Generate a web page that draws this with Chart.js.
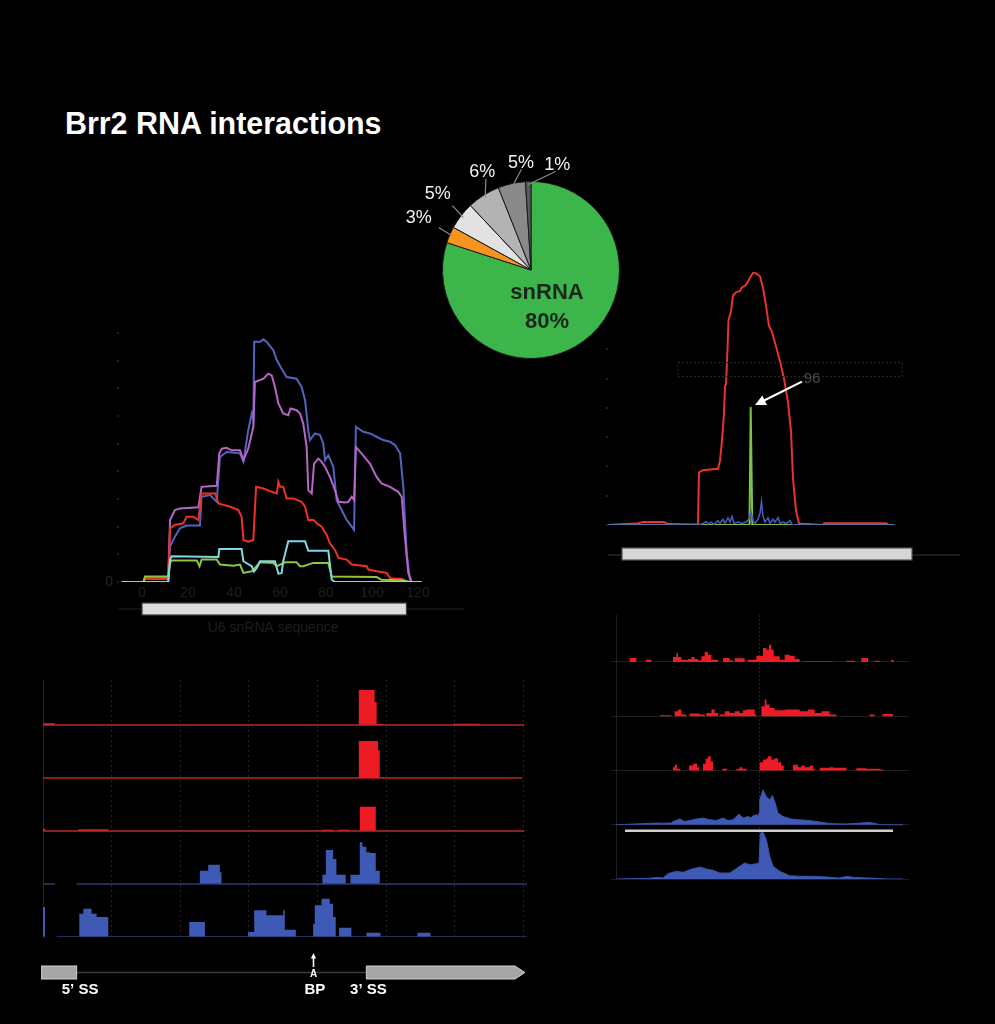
<!DOCTYPE html>
<html lang="en">
<head>
  <meta charset="UTF-8">
  <title>Brr2 RNA interactions</title>
  <script src="https://cdn.jsdelivr.net/npm/chart.js"></script>
  <style>
    body { margin: 0; background: #000; }
    #fig { position: relative; width: 995px; height: 1024px; background: #000; overflow: hidden; }
    #fig canvas { position: absolute; }
    .title {
      position: absolute; left: 65px; top: 107px;
      font: bold 32px 'Liberation Sans', Arial, sans-serif; line-height: 32px;
      color: #fff; white-space: nowrap;
      transform: scaleX(0.95); transform-origin: left top;
    }
  </style>
</head>
<body>
  <div id="fig">
    <div class="title">Brr2 RNA interactions</div>
    <canvas id="u6Chart" width="420" height="330" style="left:60px;top:320px"></canvas>
    <canvas id="peakChart" width="390" height="460" style="left:590px;top:120px"></canvas>
    <canvas id="intronChart" width="550" height="340" style="left:20px;top:670px"></canvas>
    <canvas id="metaChart" width="320" height="300" style="left:600px;top:600px"></canvas>
    <canvas id="pieChart" width="300" height="240" style="left:380px;top:150px"></canvas>
  </div>

  <script>
    // ---------- pie: read classes ----------
    const pieLabels = ["snRNA", "class 2", "class 3", "class 4", "class 5", "class 6"];
    const pieValues = [80, 3, 5, 6, 5, 1];

    // ---------- U6 snRNA profiles [position, signal] ----------
    const u6XTicks = [0, 20, 40, 60, 80, 100, 120];
    const u6YTicks = [0, 1, 2, 3, 4, 5, 6, 7, 8, 9];
    const u6Blue = [[-8.8,0],[11.4,0],[12.2,1.28],[14.3,1.64],[16.5,1.94],[19.4,2.04],[25.2,2.04],[25.9,3.08],[29.6,3.14],[32.5,2.9],[33.9,4.52],[36.8,4.7],[42.6,4.65],[44.1,4.35],[46.2,5.49],[47.7,6.09],[48.4,5.85],[48.8,8.68],[51.3,8.68],[52.8,8.77],[54.2,8.68],[57.1,8.38],[58.6,8.02],[60.7,7.71],[62.9,7.41],[67.2,7.35],[69.4,7.05],[70.9,6.57],[72.3,5.49],[73.0,5.13],[75.2,5.37],[77.4,5.31],[78.8,5.01],[79.6,4.4],[81.0,4.58],[83.2,4.16],[84.6,2.96],[86.1,2.72],[89.0,2.24],[91.2,2.0],[92.2,1.88],[93.0,5.61],[96.2,5.43],[99.1,5.37],[102.0,5.25],[104.9,5.13],[107.8,5.07],[110.0,4.95],[112.2,4.65],[113.6,3.46],[115.1,1.04],[116.5,0.08],[117.3,0],[121.6,0]];
    const u6Purple = [[-8.8,0],[0.6,0],[1.3,0.14],[11.4,0.14],[12.2,2.24],[14.3,2.6],[16.5,2.66],[24.5,2.7],[25.9,3.44],[32.5,3.48],[33.6,4.64],[34.7,4.82],[36.8,4.85],[39.0,4.76],[42.6,4.76],[44.1,4.4],[46.2,4.82],[48.4,5.61],[49.1,7.23],[52.8,7.35],[54.9,7.53],[56.4,7.47],[57.8,7.05],[59.3,6.45],[61.4,6.09],[63.6,6.03],[64.6,6.27],[67.2,6.21],[68.7,6.09],[70.1,5.73],[71.6,4.88],[72.3,3.32],[73.8,3.2],[74.8,4.28],[76.7,4.46],[78.1,4.34],[79.6,4.16],[81.7,3.8],[83.9,3.32],[85.4,2.9],[88.3,2.87],[89.7,2.9],[91.2,3.08],[92.2,2.96],[93.0,4.88],[95.5,4.64],[99.1,4.28],[102.0,3.8],[104.2,3.56],[107.8,3.44],[111.4,3.26],[112.9,3.08],[114.3,1.64],[115.8,0.32],[117.3,0]];
    const u6Red = [[-8.8,0],[0.6,0],[1.3,0.11],[11.4,0.11],[12.2,1.94],[14.3,2.06],[17.9,2.12],[19.4,2.36],[22.3,2.36],[24.5,2.24],[25.9,3.2],[31.8,3.2],[33.2,2.84],[38.3,2.72],[41.9,2.6],[43.3,2.36],[44.1,1.52],[46.2,1.46],[48.4,1.52],[49.6,3.44],[52.8,3.38],[56.4,3.26],[58.6,3.2],[59.3,3.62],[60.0,3.44],[61.4,3.44],[62.9,3.02],[65.8,3.02],[69.4,2.9],[70.9,2.72],[72.3,2.24],[74.5,2.24],[76.0,2.12],[78.1,2.0],[80.3,1.7],[81.7,1.4],[83.9,1.16],[85.4,0.87],[89.0,0.81],[91.2,0.63],[97.7,0.57],[98.4,0.45],[102.0,0.39],[106.4,0.33],[107.8,0.14],[112.9,0.11],[115.1,0]];
    const u6Cyan = [[-8.8,0],[11.4,0],[12.2,0.81],[12.9,0.93],[33.2,0.9],[33.6,1.19],[43.3,1.19],[44.1,0.75],[47.7,0.57],[48.7,0.38],[49.9,0.51],[51.3,0.75],[57.8,0.75],[59.3,0.3],[60.7,0.32],[61.4,0.75],[63.6,1.47],[70.9,1.47],[72.3,1.13],[81.0,1.13],[82.5,0.08],[83.9,0],[121.6,0]];
    const u6Green = [[-8.8,0],[0.6,0],[1.3,0.2],[11.4,0.2],[12.2,0.69],[12.9,0.78],[23.8,0.78],[25.0,0.57],[25.9,0.81],[32.5,0.81],[33.9,0.63],[39.7,0.59],[42.6,0.63],[44.1,0.33],[47.7,0.39],[49.1,0.51],[51.3,0.71],[57.1,0.69],[58.6,0.57],[62.2,0.71],[67.2,0.71],[68.7,0.57],[70.1,0.57],[74.5,0.69],[81.0,0.69],[82.5,0.2],[102.0,0.18],[104.2,0.08],[113.6,0.06],[116.5,0]];

    // ---------- second snRNA profile [position, signal] ----------
    const peakYTicks = [0, 1, 2, 3, 4, 5, 6];
    const peakRed = [[0,0],[30,0.06],[35,0.1],[56,0.1],[60,0.03],[90,0.02],[91,1.8],[95,1.87],[102,1.9],[110,1.92],[112,2.2],[114,2.9],[116,3.8],[117,4.75],[118,4.8],[119.5,6.0],[120.5,7.0],[123,7.3],[125,7.85],[128,7.95],[132,8.0],[134,8.12],[138,8.2],[142,8.45],[145,8.62],[148,8.6],[152,8.5],[155,8.1],[158,7.5],[161,6.8],[164,6.6],[168,6.1],[172,5.6],[176,5.0],[180,4.2],[183,3.2],[185,1.6],[188,0.5],[191,0.05],[215,0],[216,0.06],[278,0.06],[280,0.02]];
    const peakGreen = [[0,0],[141.5,0],[142.7,4.03],[144.3,0],[287,0]];
    const peakBlue = [[0,0],[90,0],[95,0.05],[98,0.12],[100,0.03],[103,0.1],[106,0.02],[110,0.15],[112,0.05],[115,0.2],[117,0.05],[120,0.25],[122,0.1],[124,0.3],[126,0.05],[130,0.1],[134,0.05],[138,0.1],[141,0.2],[143,0.45],[145,0.15],[147,0.05],[150,0.2],[152,0.4],[153.5,0.8],[155,0.3],[157,0.1],[160,0.25],[162,0.05],[165,0.2],[167,0.1],[170,0.25],[172,0.05],[175,0.1],[178,0.05],[182,0.15],[184,0.02],[188,0],[287,0]];

    // ---------- intron tracks, blocks [start, end, height] ----------
    const intronGridTicks = [0, 100, 200, 300, 400, 500, 600, 700];
    const trackL1 = [[0,17,1.7],[460,483,35],[483,486,23],[486,495,1],[597,636,1.2]];
    const trackL2 = [[460,488,37],[488,490.5,27.7]];
    const trackL3 = [[0,3,2.3],[51.4,95,1.7],[405.6,422.6,1.3],[430,447,1.3],[461.4,484.7,24.3]];
    const trackL4 = [[228.5,240.6,13.3],[240.6,257.6,19.3],[257.6,260,11.7],[407,412,9.3],[412,422.6,34],[422.6,427.4,25],[427.4,441,9.3],[447.8,461.4,9.3],[461.4,465.3,41.7],[465.3,471,37.3],[471,476,31.7],[476,484.7,31],[484.7,490.5,13.3]];
    const trackL5 = [[0,3,30],[52.9,58.7,23.3],[58.7,70.8,28.3],[70.8,78.1,23.3],[78.1,95.1,20],[213,235.8,15],[298.8,307.6,5],[307.6,325.5,26.7],[325.5,349.8,21.7],[349.8,352.2,26.7],[352.2,368.3,7.3],[393.5,395.9,13.3],[395.9,405.6,31.7],[405.6,417.7,38.3],[417.7,422.6,33.3],[422.6,426.4,20],[431.3,449.2,9.3],[471.1,491.5,4.3],[545.4,564.4,4.3]];
    const trackL4Gap = [17, 49];
    const trackL5Gap = [3, 20];
    const intronExons = [[-2, 49], [471, 702]];
    const branchPoint = 394;

    // ---------- metagene tracks ----------
    const trackR1 = [[-129.3,-122.6,4],[-113.3,-107.6,2.3],[-86,-82.6,5],[-82.6,-81,9],[-81,-77.6,5],[-77.6,-71,2.3],[-71,-67.6,3],[-67.6,-64.3,5],[-64.3,-61,3],[-61,-57.6,1.7],[-57.6,-54.3,5.7],[-54.3,-51,10],[-51,-47.6,7.3],[-47.6,-41,2.3],[-36,-29.3,4],[-29.3,-26,1.5],[-24.3,-14.3,3.7],[-11,-2.6,2.3],[-2.6,4,6.3],[4,7.3,14],[7.3,10,12.3],[10,12.3,17.3],[12.3,14.7,12.3],[14.7,20.7,5.7],[20.7,25.7,2.3],[25.7,30.7,7.3],[30.7,35.7,6.3],[35.7,40.7,3],[44,74,0.6],[87.4,95.7,1.3],[102.4,109,4],[115.7,120.7,1.3],[132.4,134.7,2.3]];
    const trackR2 = [[-99.3,-87.6,1],[-84.3,-81,5],[-81,-77.6,6.7],[-77.6,-72.6,1.7],[-69.3,-59.3,2.7],[-59.3,-54.3,1.7],[-52.6,-47.6,3.3],[-47.6,-44.3,6.7],[-44.3,-41,3.3],[-39.3,-34.3,1.7],[-34.3,-29.3,5],[-29.3,-24.3,3.3],[-24.3,-19.3,5],[-19.3,-16,3.3],[-16,-12.6,6],[-12.6,-4.3,6.7],[-4.3,-2.6,1.7],[2.4,5.7,10],[5.7,7.4,16.7],[7.4,10.7,11.7],[10.7,15.7,8.3],[15.7,25.7,6],[25.7,40.7,6.7],[40.7,49,5],[49,55.7,6.7],[55.7,62.4,3.3],[62.4,70.7,5],[70.7,77.4,1.7],[110.7,115.7,1.7],[123.4,134,2.3]];
    const trackR3 = [[-86,-84.3,3.3],[-84.3,-82,5.7],[-82,-78.6,1.7],[-70,-66,5],[-66,-62,6.7],[-62,-60,3.3],[-56,-53.3,6.7],[-53.3,-51,11.7],[-51,-48.3,14.3],[-48.3,-46,9],[-36.6,-32,1.7],[-22.6,-19.3,1.7],[-19.3,-16.6,3.3],[-16.6,-12.6,1.7],[0.7,4,8.3],[4,7.4,11],[7.4,9,12.3],[9,12.4,14.3],[12.4,15.7,11],[15.7,19,12.3],[19,22.4,8.3],[22.4,24.7,5],[34,39,5.7],[39,42.4,3.3],[42.4,45.7,5],[45.7,50.7,3.3],[50.7,54,5],[54,55.7,1.7],[60.7,70.7,2.7],[70.7,74,3.3],[74,87.4,2.7],[97.4,107.4,2.3],[107.4,120.7,1.7],[120.7,124,1]];
    const trackR4 = [[-134.3,0.3],[-102.6,1.7],[-96,1.5],[-87.6,1.8],[-86,3.3],[-79.3,5.7],[-74.3,3.3],[-69.3,4.3],[-62.6,5.7],[-56,6.7],[-49.3,5],[-42.6,4.3],[-36,6.7],[-31,4.3],[-26,5],[-20,10.7],[-16,6.7],[-11,8.3],[-8,7],[-6,9],[-4,9.5],[-2.6,10],[-1,8.8],[0,11.7],[0.7,25],[4,35],[7.4,28],[10.7,25],[13.4,29.3],[15.7,23.3],[19,11.7],[24,8.3],[32.4,5.7],[40.7,5],[49,4.3],[57.4,3.3],[67.4,1.7],[74,1],[87.4,0.7],[100.7,1.7],[110.7,2.3],[117.4,1],[120.7,0]];
    const trackR5 = [[-109.3,0.7],[-102.6,1.7],[-96,1],[-91,5.3],[-82.6,7.7],[-76,6.7],[-69.3,9.3],[-59.3,12],[-52.6,10],[-46,8.7],[-39.3,6],[-29.3,6],[-24.3,9.3],[-19.3,12.7],[-14.3,16],[-9.3,14.3],[-2.6,15.3],[0,16],[1.4,46],[4,46.7],[7.4,39.3],[10.7,22.7],[14,12.7],[20.7,7.7],[30.7,3.3],[40.7,2.7],[54,2.7],[67.4,2],[80.7,1],[87.4,2.7],[94,1.7],[107.4,1],[117.4,0.7],[127.4,0]];

    // ---------- common settings ----------
    Chart.defaults.font.family = "'Liberation Sans', Arial, sans-serif";
    Chart.defaults.animation = false;
    Chart.defaults.events = [];
    Chart.defaults.plugins.legend.display = false;
    Chart.defaults.plugins.tooltip.enabled = false;
    Chart.defaults.elements.point.radius = 0;
    Chart.defaults.elements.line.tension = 0;

    const RED = "#ed1c24";
    const BLUE = "#3f5ab5";

    function pairs(arr, base) {
      return arr.map(p => ({ x: p[0], y: base + p[1] }));
    }

    // turn blocks into a stepped outline sitting on "base"
    function blocks(segs, base, start, end, gap) {
      const pts = [{ x: start, y: base }];
      let pos = start;
      segs.forEach(([x0, x1, h]) => {
        if (gap && pos <= gap[0] && x0 >= gap[1]) {
          pts.push({ x: gap[0], y: base }, { x: gap[0], y: null }, { x: gap[1], y: base });
        }
        pts.push({ x: x0, y: base }, { x: x0, y: base + h }, { x: x1, y: base + h }, { x: x1, y: base });
        pos = x1;
      });
      pts.push({ x: end, y: base });
      return pts;
    }

    function baseline(base, start, end, gap) {
      if (!gap) return [{ x: start, y: base }, { x: end, y: base }];
      return [{ x: start, y: base }, { x: gap[0], y: base }, { x: gap[0], y: null }, { x: gap[1], y: base }, { x: end, y: base }];
    }

    function line(data, color, width) {
      return { data: data, borderColor: color, borderWidth: width, fill: false };
    }

    // ---------- pie ----------
    const pieText = {
      id: "pieText",
      afterDatasetsDraw(chart) {
        const ctx = chart.ctx;
        const arcs = chart.getDatasetMeta(0).data;
        const nudge = [0, 1.3, 1.5, 6, 7.3, 15.8];
        const dist = [0, 35, 32, 21, 19, 20];
        const cx = arcs[0].x, cy = arcs[0].y, r = arcs[0].outerRadius;
        ctx.save();
        ctx.textAlign = "center";
        ctx.textBaseline = "middle";
        arcs.forEach((arc, i) => {
          if (i === 0) return;
          const mid = (arc.startAngle + arc.endAngle) / 2;
          const la = mid + nudge[i] * Math.PI / 180;
          ctx.strokeStyle = "#8a8a8a";
          ctx.lineWidth = 1.2;
          ctx.beginPath();
          ctx.moveTo(cx + Math.cos(mid) * (r - 3), cy + Math.sin(mid) * (r - 3));
          ctx.lineTo(cx + Math.cos(la) * (r + 13), cy + Math.sin(la) * (r + 13));
          ctx.stroke();
          ctx.fillStyle = "#f2f2f2";
          ctx.font = "18px 'Liberation Sans', Arial, sans-serif";
          ctx.fillText(pieValues[i] + "%", cx + Math.cos(la) * (r + dist[i]), cy + Math.sin(la) * (r + dist[i]));
        });
        ctx.fillStyle = "#1b261b";
        ctx.font = "bold 22px 'Liberation Sans', Arial, sans-serif";
        ctx.fillText(pieLabels[0], cx + 16, cy + 23);
        ctx.fillText(pieValues[0] + "%", cx + 16, cy + 52);
        ctx.restore();
      }
    };

    new Chart(document.getElementById("pieChart"), {
      type: "pie",
      data: {
        labels: pieLabels,
        datasets: [{
          data: pieValues,
          backgroundColor: ["#3cb54a", "#f7941d", "#e2e2e2", "#b3b3b3", "#8a8a8a", "#5a5a5a"],
          borderColor: "#1a1a1a",
          borderWidth: 1
        }]
      },
      options: {
        responsive: false,
        layout: { padding: { left: 62, top: 31, right: 60, bottom: 31 } }
      },
      plugins: [pieText]
    });

    // ---------- U6 profile ----------
    const u6Extras = {
      id: "u6Extras",
      afterDraw(chart) {
        const ctx = chart.ctx, xs = chart.scales.x;
        const a = chart.chartArea;
        ctx.save();
        ctx.strokeStyle = "#262626";
        ctx.lineWidth = 1.2;
        ctx.beginPath();
        ctx.moveTo(a.left, 289);
        ctx.lineTo(a.right, 289);
        ctx.stroke();
        const x0 = xs.getPixelForValue(0), x1 = xs.getPixelForValue(115);
        ctx.fillStyle = "#dcdcdc";
        ctx.fillRect(x0, 283, x1 - x0, 12);
        ctx.strokeStyle = "#3a3a3a";
        ctx.strokeRect(x0, 283, x1 - x0, 12);
        ctx.fillStyle = "#1f1f1f";
        ctx.font = "14px 'Liberation Sans', Arial, sans-serif";
        ctx.textAlign = "center";
        ctx.textBaseline = "middle";
        ctx.fillText("U6 snRNA sequence", xs.getPixelForValue(57), 308);
        ctx.restore();
      }
    };

    new Chart(document.getElementById("u6Chart"), {
      type: "line",
      data: {
        datasets: [
          line(pairs(u6Cyan, 0), "#7fd8e6", 2),
          line(pairs(u6Green, 0), "#8cc63f", 2),
          line(pairs(u6Red, 0), "#ee3124", 2),
          line(pairs(u6Purple, 0), "#b964c8", 2),
          line(pairs(u6Blue, 0), "#5462c0", 2)
        ]
      },
      options: {
        responsive: false,
        layout: { padding: { left: 0, top: 13, right: 16, bottom: 0 } },
        scales: {
          x: {
            type: "linear", min: -10, max: 140,
            afterBuildTicks: axis => { axis.ticks = u6XTicks.map(v => ({ value: v })); },
            afterFit: scale => { scale.height = 68; },
            grid: { display: false, drawTicks: false },
            border: { display: false },
            ticks: { color: "#1f1f1f", font: { size: 14 }, padding: 3 }
          },
          y: {
            min: 0, max: 9,
            afterBuildTicks: axis => { axis.ticks = u6YTicks.map(v => ({ value: v })); },
            afterFit: scale => { scale.width = 59; },
            grid: { drawOnChartArea: false, drawTicks: true, tickLength: 2, lineWidth: 2, color: "#202020" },
            border: { display: false },
            ticks: { color: "#262626", font: { size: 14 }, padding: 4, callback: v => (v === 0 ? "0" : "") }
          }
        }
      },
      plugins: [u6Extras]
    });

    // ---------- second profile with arrow ----------
    function arrowTo(ctx, x1, y1, x2, y2, head) {
      const a = Math.atan2(y2 - y1, x2 - x1);
      ctx.beginPath();
      ctx.moveTo(x1, y1);
      ctx.lineTo(x2 - Math.cos(a) * head * 0.8, y2 - Math.sin(a) * head * 0.8);
      ctx.stroke();
      ctx.beginPath();
      ctx.moveTo(x2, y2);
      ctx.lineTo(x2 - head * Math.cos(a - 0.45), y2 - head * Math.sin(a - 0.45));
      ctx.lineTo(x2 - head * Math.cos(a + 0.45), y2 - head * Math.sin(a + 0.45));
      ctx.closePath();
      ctx.fill();
    }

    const peakExtras = {
      id: "peakExtras",
      afterDraw(chart) {
        const ctx = chart.ctx, xs = chart.scales.x, ys = chart.scales.y;
        ctx.save();
        // sequence bar
        ctx.strokeStyle = "#363636";
        ctx.lineWidth = 1.2;
        ctx.beginPath();
        ctx.moveTo(xs.getPixelForValue(0), 435);
        ctx.lineTo(xs.getPixelForValue(352), 435);
        ctx.stroke();
        const b0 = xs.getPixelForValue(14), b1 = xs.getPixelForValue(304);
        ctx.fillStyle = "#d6d6d6";
        ctx.fillRect(b0, 428, b1 - b0, 12);
        ctx.strokeStyle = "#555";
        ctx.strokeRect(b0, 428, b1 - b0, 12);
        // faint dotted box with "96"
        ctx.setLineDash([2, 2]);
        ctx.strokeStyle = "#262626";
        const rx0 = xs.getPixelForValue(70), rx1 = xs.getPixelForValue(294);
        const ry0 = ys.getPixelForValue(5.55), ry1 = ys.getPixelForValue(5.07);
        ctx.strokeRect(rx0, ry0, rx1 - rx0, ry1 - ry0);
        ctx.setLineDash([]);
        ctx.fillStyle = "#4a4a4a";
        ctx.font = "15px 'Liberation Sans', Arial, sans-serif";
        ctx.textAlign = "center";
        ctx.textBaseline = "middle";
        ctx.fillText("96", xs.getPixelForValue(204), ys.getPixelForValue(4.98));
        // arrow to the green peak
        ctx.strokeStyle = "#fff";
        ctx.fillStyle = "#fff";
        ctx.lineWidth = 2.2;
        arrowTo(ctx, xs.getPixelForValue(194), ys.getPixelForValue(4.9), xs.getPixelForValue(147), ys.getPixelForValue(4.1), 12);
        ctx.restore();
      }
    };

    new Chart(document.getElementById("peakChart"), {
      type: "line",
      data: {
        datasets: [
          line(pairs(peakBlue, 0), "#4a5bc0", 1.5),
          line(pairs(peakGreen, 0), "#7cc243", 2),
          line(pairs(peakRed, 0), "#e8322f", 2)
        ]
      },
      options: {
        responsive: false,
        layout: { padding: { left: 0, top: 10, right: 20, bottom: 55 } },
        scales: {
          x: { type: "linear", min: 0, max: 352, display: false },
          y: {
            min: 0, max: 13.5,
            afterBuildTicks: axis => { axis.ticks = peakYTicks.map(v => ({ value: v })); },
            afterFit: scale => { scale.width = 18; },
            grid: { drawOnChartArea: false, drawTicks: true, tickLength: 2, lineWidth: 2, color: "#202020" },
            border: { display: false },
            ticks: { display: false }
          }
        }
      },
      plugins: [peakExtras]
    });

    // ---------- intron tracks ----------
    const LB = [212, 159, 106, 53, 0];
    const geneExtras = {
      id: "geneExtras",
      afterDraw(chart) {
        const ctx = chart.ctx, xs = chart.scales.x;
        const yc = 302.5, hh = 6.5;
        ctx.save();
        ctx.strokeStyle = "#3c3c3c";
        ctx.lineWidth = 1.5;
        ctx.beginPath();
        ctx.moveTo(xs.getPixelForValue(intronExons[0][1]), yc);
        ctx.lineTo(xs.getPixelForValue(intronExons[1][0]), yc);
        ctx.stroke();
        ctx.fillStyle = "#a6a6a6";
        ctx.strokeStyle = "#d2d2d2";
        ctx.lineWidth = 1;
        const e0 = xs.getPixelForValue(intronExons[0][0]), e1 = xs.getPixelForValue(intronExons[0][1]);
        ctx.fillRect(e0, yc - hh, e1 - e0, 2 * hh);
        ctx.strokeRect(e0, yc - hh, e1 - e0, 2 * hh);
        const f0 = xs.getPixelForValue(intronExons[1][0]), f1 = xs.getPixelForValue(intronExons[1][1]);
        ctx.beginPath();
        ctx.moveTo(f0, yc - hh);
        ctx.lineTo(f1 - 10, yc - hh);
        ctx.lineTo(f1, yc);
        ctx.lineTo(f1 - 10, yc + hh);
        ctx.lineTo(f0, yc + hh);
        ctx.closePath();
        ctx.fill();
        ctx.stroke();
        // branch point
        const bp = xs.getPixelForValue(branchPoint);
        ctx.fillStyle = "#fff";
        ctx.strokeStyle = "#fff";
        ctx.lineWidth = 1.6;
        arrowTo(ctx, bp, 297, bp, 283, 6);
        ctx.textAlign = "center";
        ctx.textBaseline = "middle";
        ctx.font = "bold 10px 'Liberation Sans', Arial, sans-serif";
        ctx.fillText("A", bp, 304);
        ctx.font = "bold 15px 'Liberation Sans', Arial, sans-serif";
        ctx.fillText("5\u2019 SS", xs.getPixelForValue(54), 320);
        ctx.fillText("BP", xs.getPixelForValue(396), 320);
        ctx.fillText("3\u2019 SS", xs.getPixelForValue(474), 320);
        ctx.restore();
      }
    };

    function fillTrack(pts, base, color) {
      return { data: pts, borderColor: "rgba(0,0,0,0)", borderWidth: 1, backgroundColor: color, fill: { value: base } };
    }

    const leftTracks = [
      [trackL1, RED, "#b82a2a", null, 701],
      [trackL2, RED, "#b82a2a", null, 698],
      [trackL3, RED, "#b82a2a", null, 701],
      [trackL4, BLUE, "#2f3b74", trackL4Gap, 705],
      [trackL5, BLUE, "#2f3b74", trackL5Gap, 705]
    ];
    const leftSets = [];
    leftTracks.forEach(([segs, fillCol, lineCol, gap, end], i) => {
      leftSets.push(line(baseline(LB[i], 0, end, gap), lineCol, 1.4));
      leftSets.push(fillTrack(blocks(segs, LB[i], 0, end, gap), LB[i], fillCol));
    });

    new Chart(document.getElementById("intronChart"), {
      type: "line",
      data: { datasets: leftSets },
      options: {
        responsive: false,
        layout: { padding: { left: 23, top: 10, right: 43, bottom: 73 } },
        scales: {
          x: {
            type: "linear", min: 0, max: 705,
            afterBuildTicks: axis => { axis.ticks = intronGridTicks.map(v => ({ value: v })); },
            afterFit: scale => { scale.height = 0; },
            grid: { color: "#232323", drawTicks: false },
            border: { display: false, dash: [2, 3] },
            ticks: { display: false }
          },
          y: {
            min: 0, max: 257,
            afterFit: scale => { scale.width = 0; },
            grid: { display: false },
            border: { display: true, color: "#262626" },
            ticks: { display: false }
          }
        }
      },
      plugins: [geneExtras]
    });

    // ---------- metagene tracks ----------
    const RB = [217, 162.75, 108.5, 54.25, 0];
    const metaExtras = {
      id: "metaExtras",
      afterDatasetsDraw(chart) {
        const ctx = chart.ctx, xs = chart.scales.x, ys = chart.scales.y;
        ctx.save();
        ctx.strokeStyle = "#cfcfcf";
        ctx.lineWidth = 2.5;
        ctx.beginPath();
        ctx.moveTo(xs.getPixelForValue(-134), ys.getPixelForValue(48.3));
        ctx.lineTo(xs.getPixelForValue(134), ys.getPixelForValue(48.3));
        ctx.stroke();
        ctx.restore();
      }
    };

    function densityTrack(arr, base, start, end) {
      return [{ x: start, y: base }].concat(pairs(arr, base), [{ x: end, y: base }]);
    }

    new Chart(document.getElementById("metaChart"), {
      type: "line",
      data: {
        datasets: [
          fillTrack(blocks(trackR1, RB[0], -143, 144, null), RB[0], RED),
          fillTrack(blocks(trackR2, RB[1], -143, 144, null), RB[1], RED),
          fillTrack(blocks(trackR3, RB[2], -143, 144, null), RB[2], RED),
          { data: densityTrack(trackR4, RB[3], -143, 144), borderColor: "#3a52a8", borderWidth: 1, backgroundColor: BLUE, fill: { value: RB[3] } },
          { data: densityTrack(trackR5, RB[4], -143, 144), borderColor: "#3a52a8", borderWidth: 1, backgroundColor: BLUE, fill: { value: RB[4] } }
        ]
      },
      options: {
        responsive: false,
        layout: { padding: { left: 16, top: 15, right: 11, bottom: 21 } },
        scales: {
          x: {
            type: "linear", min: -143, max: 150,
            afterBuildTicks: axis => { axis.ticks = [{ value: 0 }]; },
            afterFit: scale => { scale.height = 0; },
            grid: { color: "#262626", drawTicks: false },
            border: { display: false, dash: [2, 2] },
            ticks: { display: false }
          },
          y: {
            min: 0, max: 264,
            afterBuildTicks: axis => { axis.ticks = RB.map(v => ({ value: v })); },
            afterFit: scale => { scale.width = 0; },
            grid: { color: "#1f1f1f", drawTicks: true, tickLength: 5 },
            border: { display: true, color: "#1f1f1f" },
            ticks: { display: false }
          }
        }
      },
      plugins: [metaExtras]
    });
  </script>
</body>
</html>
